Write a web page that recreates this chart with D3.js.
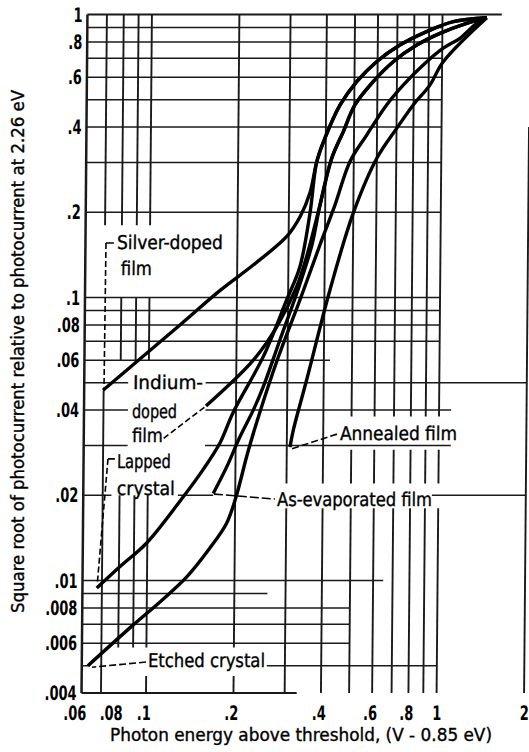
<!DOCTYPE html>
<html><head><meta charset="utf-8">
<script src="https://cdn.jsdelivr.net/npm/d3@7"></script>
<style>body{margin:0;background:#fff}svg{display:block}</style>
</head><body>
<svg id="chart" width="529" height="752"></svg>
<script>
// ---------- data ----------
const xTickValues = [0.06, 0.08, 0.1, 0.2, 0.4, 0.6, 0.8, 1, 2];
const xTickLabels = [".06", ".08", ".1", ".2", ".4", ".6", ".8", "1", "2"];
const yTickValues = [1, 0.8, 0.6, 0.4, 0.2, 0.1, 0.08, 0.06, 0.04, 0.02, 0.01, 0.008, 0.006, 0.004];
const yTickLabels = ["1", ".8", ".6", ".4", ".2", ".1", ".08", ".06", ".04", ".02", ".01", ".008", ".006", ".004"];

const silverDoped = [[0.0697,0.047],[0.1276,0.080],[0.175,0.106],[0.2265,0.130],[0.295,0.164],[0.328,0.193],[0.354,0.234],[0.373,0.302],[0.397,0.365],[0.447,0.479],[0.509,0.579],[0.595,0.681],[0.715,0.78],[0.883,0.87],[1.09,0.943],[1.42,0.974]];
const indiumDoped = [[0.1577,0.0414],[0.2288,0.0601],[0.2746,0.0788],[0.3208,0.1092],[0.3464,0.1394],[0.3837,0.212],[0.4196,0.310],[0.459,0.385],[0.5027,0.479],[0.580,0.579],[0.679,0.681],[0.817,0.78],[0.981,0.858],[1.211,0.931],[1.42,0.974]];
const lappedCrystal = [[0.0672,0.0094],[0.0807,0.0112],[0.0995,0.01357],[0.1326,0.01978],[0.1546,0.0246],[0.1766,0.0306],[0.1953,0.0391],[0.2474,0.0618],[0.2966,0.098],[0.3287,0.1285],[0.3548,0.199],[0.373,0.302],[0.397,0.365],[0.447,0.479],[0.509,0.579],[0.595,0.681],[0.715,0.78],[0.883,0.87],[1.09,0.943],[1.42,0.974]];
const asEvaporated = [[0.168,0.0203],[0.1866,0.0252],[0.2068,0.0322],[0.2294,0.040],[0.248,0.0484],[0.282,0.0708],[0.324,0.1063],[0.361,0.1533],[0.3837,0.212],[0.4196,0.310],[0.459,0.385],[0.5027,0.479],[0.580,0.579],[0.679,0.681],[0.817,0.78],[0.981,0.858],[1.211,0.931],[1.42,0.974]];
const annealedFilm = [[0.3076,0.0296],[0.3155,0.034],[0.3494,0.0511],[0.4177,0.1063],[0.500,0.199],[0.5995,0.310],[0.701,0.396],[0.798,0.479],[0.909,0.563],[1.009,0.681],[1.42,0.974]];
const etchedCrystal = [[0.063,0.005],[0.089,0.0069],[0.111,0.0084],[0.137,0.0103],[0.164,0.013],[0.187,0.0159],[0.2012,0.0197],[0.2206,0.0285],[0.2419,0.0394],[0.278,0.0611],[0.3295,0.098],[0.3846,0.1533],[0.432,0.212],[0.485,0.302],[0.553,0.375],[0.646,0.479],[0.736,0.563],[0.861,0.663],[1.008,0.760],[1.150,0.824],[1.311,0.931],[1.42,0.974]];

// graph-paper rulings (value, extents in data units)
const gridRows = [
  [1, [[0.06,1.6]]],[0.9,[[0.06,1]]],[0.8,[[0.06,1]]],[0.7,[[0.06,1]]],[0.6,[[0.06,1]]],
  [0.5,[[0.06,1]]],[0.4,[[0.06,1]]],[0.3,[[0.06,1]]],[0.2,[[0.06,1]]],
  [0.1,[[0.06,1]]],[0.09,[[0.06,1]]],[0.08,[[0.06,1]]],[0.07,[[0.06,1]]],
  [0.06,[[0.06,0.42]]],[0.05,[[0.06,0.085],[0.157,2]]],[0.04,[[0.06,0.085],[0.157,1.1]]],
  [0.03,[[0.06,0.085],[0.157,1.1]]],[0.02,[[0.06,0.075],[0.127,0.168],[0.95,2]]],
  [0.01,[[0.06,0.65]]],[0.009,[[0.06,0.26]]],[0.008,[[0.06,0.5]]],[0.007,[[0.06,0.5]]],
  [0.006,[[0.06,0.5]]],[0.005,[[0.06,0.064],[0.26,1]]],[0.004,[[0.06,0.33]]]
];
const gridCols = [
  [0.06,[[0.004,1]]],
  [0.07,[[0.18,1],[0.004,0.047]]],
  [0.08,[[0.18,1],[0.06,0.1],[0.0058,0.02]]],
  [0.09,[[0.18,1],[0.06,0.1],[0.0058,0.02]]],
  [0.1,[[0.18,1],[0.06,0.1],[0.0058,0.02],[0.004,0.0046]]],
  [0.2,[[0.0058,1],[0.004,0.0046]]],
  [0.3,[[0.004,0.018],[0.022,1]]],
  [0.4,[[0.004,0.018],[0.022,1]]],
  [0.5,[[0.004,0.018],[0.022,0.029],[0.038,1]]],
  [0.6,[[0.004,0.018],[0.022,0.029],[0.038,1]]],
  [0.7,[[0.004,0.018],[0.022,0.029],[0.038,1]]],
  [0.8,[[0.004,0.018],[0.022,0.029],[0.038,1]]],
  [0.9,[[0.004,0.018],[0.022,0.029],[0.038,1]]],
  [1,[[0.004,0.018],[0.022,0.029],[0.038,1]]],
  [2,[[0.004,0.4]]]
];

// ---------- drawing ----------
const svg = d3.select("#chart");
svg.append("rect").attr("width",529).attr("height",752).attr("fill","#fff");
const x = d3.scaleLog().domain([0.1, 1]).range([146, 436.6]);
const y = d3.scaleLog().domain([1, 0.01]).range([14.5, 580.5]);
const FONT = "'Liberation Sans Narrow','DejaVu Sans Condensed','Arial Narrow','DejaVu Sans',sans-serif";

const g = svg.append("g").attr("transform","translate(0,693) skewX(-0.5) translate(0,-693)");

const grid = g.append("g").attr("stroke","#1a1a1a");
gridRows.forEach(([v, segs]) => segs.forEach(([a,b]) => {
  grid.append("line").attr("x1",x(a)).attr("x2",x(b)).attr("y1",y(v)).attr("y2",y(v))
    .attr("stroke-width", v===1||v===0.004 ? 2 : 1.5);
}));
gridCols.forEach(([v, segs]) => segs.forEach(([a,b]) => {
  grid.append("line").attr("x1",x(v)).attr("x2",x(v)).attr("y1",y(a)).attr("y2",y(b))
    .attr("stroke-width", v===0.06 ? 2.5 : 1.9);
}));

// curves
const line = d3.line().x(d=>x(d[0])).y(d=>y(d[1])).curve(d3.curveCatmullRom.alpha(0.5));
[silverDoped, indiumDoped, lappedCrystal, asEvaporated, annealedFilm, etchedCrystal].forEach(s => {
  g.append("path").datum(s).attr("d", line).attr("fill","none").attr("stroke","#000")
   .attr("stroke-width",3.4).attr("stroke-linejoin","round");
});

// leaders
const leaders = [
  {pts:[[0.0706,0.1558],[0.0752,0.1558]], dash:null},
  {pts:[[0.0706,0.1558],[0.0702,0.048]], dash:"6,3"},
  {pts:[[0.113,0.0318],[0.156,0.041]], dash:"6,3"},
  {pts:[[0.0728,0.0269],[0.0769,0.0269]], dash:null},
  {pts:[[0.0728,0.0269],[0.0675,0.0098]], dash:"6,3"},
  {pts:[[0.169,0.0202],[0.274,0.0194]], dash:"9,3"},
  {pts:[[0.446,0.0329],[0.312,0.0292]], dash:"7,3"},
  {pts:[[0.0998,0.00515],[0.0651,0.00494]], dash:"7,3"}
];
leaders.forEach(l => {
  g.append("path").attr("d", d3.line().x(d=>x(d[0])).y(d=>y(d[1]))(l.pts))
   .attr("fill","none").attr("stroke","#000").attr("stroke-width",1.6)
   .attr("stroke-dasharray", l.dash);
});

// annotation labels (data-space anchors, text width)
const notes = [
  ["Silver-doped",0.0770,0.1484,106],["film",0.0796,0.1201,31],
  ["Indium-",0.0883,0.0475,70],["doped",0.0878,0.0375,45],["film",0.0879,0.0309,31],
  ["Lapped",0.0782,0.02496,54],["crystal",0.0783,0.01997,58],
  ["As-evaporated film",0.2787,0.01834,155],["Annealed film",0.4571,0.03136,117],
  ["Etched crystal",0.1014,0.00494,117]
];
notes.forEach(([t,a,b,w]) => {
  g.append("text").attr("x",x(a)).attr("y",y(b)).text(t)
   .attr("font-family",FONT).attr("font-size",19).attr("fill","#000")
   .attr("stroke","#000").attr("stroke-width",0.35)
   .attr("textLength",w).attr("lengthAdjust","spacingAndGlyphs");
});

// tick labels (condensed)
xTickValues.forEach((v,i) => {
  g.append("text").attr("transform",`translate(${x(v)+5},720) scale(0.72,1)`).attr("text-anchor","end")
   .attr("font-family",FONT).attr("font-size",20).attr("font-weight","bold").text(xTickLabels[i]);
});
yTickValues.forEach((v,i) => {
  g.append("text").attr("transform",`translate(${x(0.06)-5},${y(v)+7}) scale(0.72,1)`).attr("text-anchor","end")
   .attr("font-family",FONT).attr("font-size",20).attr("font-weight","bold").text(yTickLabels[i]);
});

// axis titles
svg.append("text").attr("x",110).attr("y",741).text("Photon energy above threshold, (V - 0.85 eV)")
  .attr("font-family",FONT).attr("font-size",18).attr("stroke","#000").attr("stroke-width",0.35)
  .attr("textLength",382).attr("lengthAdjust","spacingAndGlyphs");
svg.append("text").attr("transform","translate(24,613) rotate(-90)")
  .text("Square root of photocurrent relative to photocurrent at 2.26 eV")
  .attr("font-family",FONT).attr("font-size",18).attr("stroke","#000").attr("stroke-width",0.35)
  .attr("textLength",523).attr("lengthAdjust","spacingAndGlyphs");
</script>
</body></html>
